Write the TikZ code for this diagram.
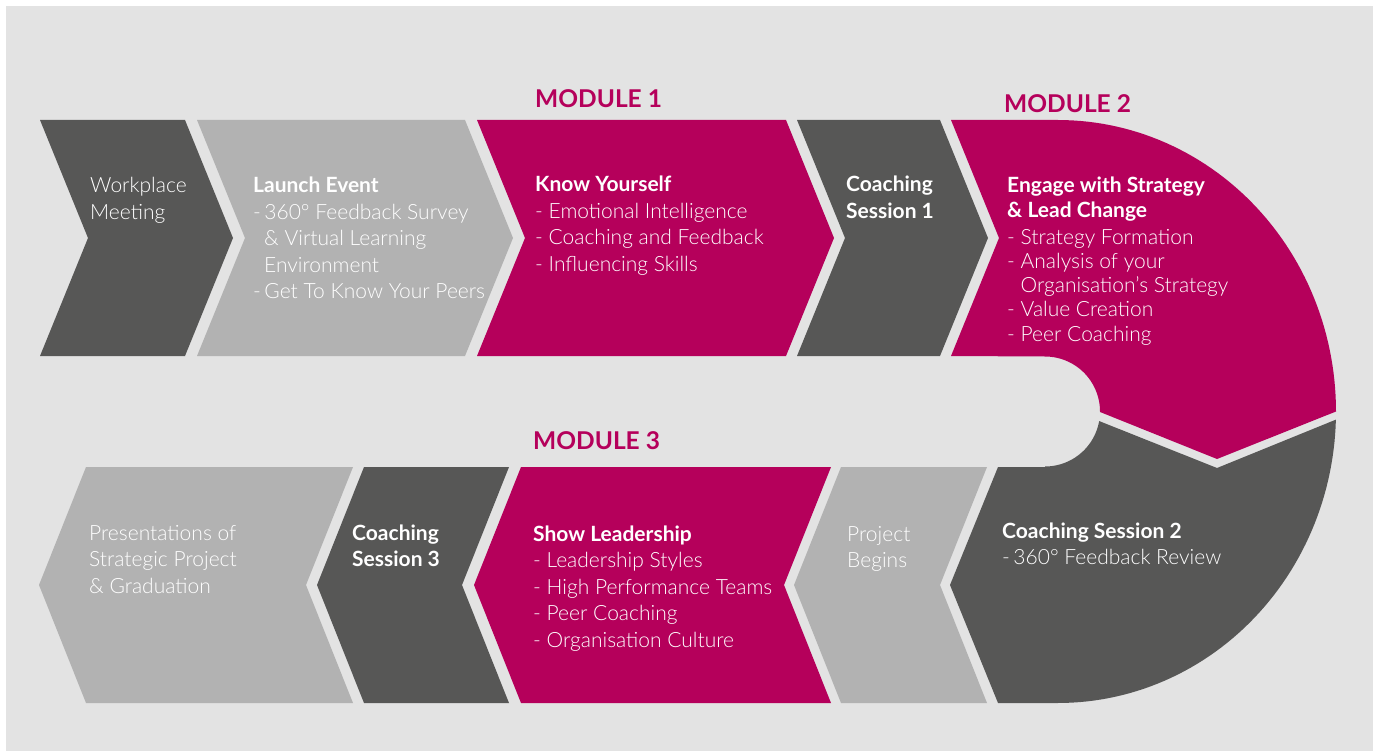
\documentclass[tikz,border=0pt]{standalone}
\usepackage{fontspec}
\setmainfont{Lato}[UprightFont={* Light},BoldFont={* Bold}]
\definecolor{bgc}{HTML}{E3E3E3}
\definecolor{dk}{HTML}{575756}
\definecolor{lt}{HTML}{B2B2B2}
\definecolor{mg}{HTML}{B5005B}
\newcommand\hdline[1]{{\fontsize{21}{26}\selectfont\bfseries #1}}
\newcommand\lineset[1]{\begin{tabular}[t]{@{}l@{}}#1\end{tabular}}
\begin{document}
\begin{tikzpicture}[x=1pt,y=-1pt,
  txt/.style={anchor=base west, inner sep=0pt, text=white,
              font=\fontsize{21}{26.5}\selectfont},
  txtb/.style={txt, font=\fontsize{21}{24.2}\selectfont},
  modl/.style={anchor=base west, inner sep=0pt, text=mg,
               font=\fontsize{24.5}{28}\selectfont\bfseries}]
\useasboundingbox (0,0) rectangle (1373,751);
\fill[white] (0,0) rectangle (1373,751);
\fill[bgc] (6,6) rectangle (1373,751);
% top row
\fill[dk] (40,120) -- (185,120) -- (233,238) -- (185,356) -- (40,356) -- (88,238) -- cycle;
\fill[lt] (197,120) -- (465,120) -- (513,238) -- (465,356) -- (197,356) -- (245,238) -- cycle;
\fill[mg] (477,120) -- (786,120) -- (834,238) -- (786,356) -- (477,356) -- (525,238) -- cycle;
\fill[dk] (797,120) -- (940,120) -- (988,238) -- (940,356) -- (797,356) -- (845,238) -- cycle;
% module 2 curved shape
\fill[mg] (951,120) -- (1058,120)
  -- plot[domain=0:90,samples=60] ({1058+278*sin(\x)},{411.5-291.5*cos(\x)})
  -- (1217,459)
  -- plot[domain=90.5:0,samples=30] ({1045+55*sin(\x)},{411.5-55*cos(\x)})
  -- (951,356) -- (999,238) -- cycle;
% coaching session 2 curved shape
\fill[dk] (998,467) -- (1045,467)
  -- plot[domain=180:100,samples=30] ({1045+55*sin(\x)},{411.5-55*cos(\x)})
  -- (1217,468)
  -- plot[domain=91.6:180,samples=60] ({1058+278*sin(\x)},{411.5-291.5*cos(\x)})
  -- (998,703) -- (950,585) -- cycle;
% bottom row
\fill[lt] (841,467) -- (987,467) -- (940,585) -- (987,703) -- (841,703) -- (794,585) -- cycle;
\fill[mg] (521,467) -- (831,467) -- (784,585) -- (831,703) -- (521,703) -- (474,585) -- cycle;
\fill[dk] (364,467) -- (509,467) -- (462,585) -- (509,703) -- (364,703) -- (317,585) -- cycle;
\fill[lt] (86,467) -- (353,467) -- (306,585) -- (353,703) -- (86,703) -- (39,585) -- cycle;
% module labels
\node[modl] (m1) at (535,108) {MODULE 1};
\node[modl] (m2) at (1004,113) {MODULE 2};
\node[modl] (m3) at (533,449) {MODULE 3};
% texts
\node[txt] (wm) at (90,193) {\lineset{Workplace\\Meeting}};
\node[txt] (le) at (253,193) {\lineset{\hdline{Launch Event}\\-\,360° Feedback Survey\\\hspace*{11pt}\& Virtual Learning\\\hspace*{11pt}Environment\\-\,Get To Know Your Peers}};
\node[txt] (ky) at (535,192) {\lineset{\hdline{Know Yourself}\\- Emotional Intelligence\\- Coaching and Feedback\\- Influencing Skills}};
\node[txt] (c1) at (846,192) {\lineset{\hdline{Coaching}\\\hdline{Session 1}}};
\node[txtb] (es) at (1007,193) {\lineset{\hdline{Engage with Strategy}\\\hdline{\& Lead Change}\\[3pt]- Strategy Formation\\- Analysis of your\\\phantom{- }Organisation’s Strategy\\- Value Creation\\- Peer Coaching}};
\node[txt] (c2) at (1002,538) {\lineset{\hdline{Coaching Session 2}\\-\,360° Feedback Review}};
\node[txt] (pb) at (847,541) {\lineset{Project\\Begins}};
\node[txt] (sl) at (533,541) {\lineset{\hdline{Show Leadership}\\- Leadership Styles\\- High Performance Teams\\- Peer Coaching\\- Organisation Culture}};
\node[txt] (c3) at (352,540) {\lineset{\hdline{Coaching}\\\hdline{Session 3}}};
\node[txt] (pr) at (89,540) {\lineset{Presentations of\\Strategic Project\\\& Graduation}};
\end{tikzpicture}
\end{document}
